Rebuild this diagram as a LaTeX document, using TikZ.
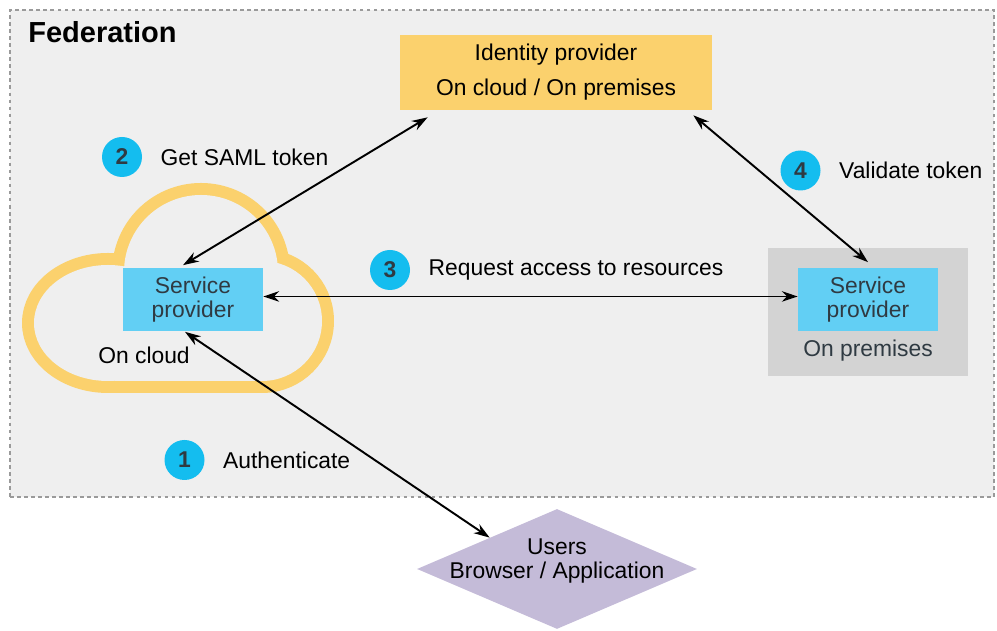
\documentclass[tikz,border=0pt]{standalone}
\usepackage{fontspec}
\setmainfont{Liberation Sans}
\usetikzlibrary{positioning,calc,shapes.geometric,arrows.meta}
\definecolor{fedgray}{HTML}{EFEFEF}
\definecolor{dashgray}{HTML}{9A9A9A}
\definecolor{idyellow}{HTML}{FBD16D}
\definecolor{spblue}{HTML}{62CFF4}
\definecolor{badgeblue}{HTML}{14BDEF}
\definecolor{premgray}{HTML}{D3D3D3}
\definecolor{userlilac}{HTML}{C4BBD8}
\definecolor{darktext}{HTML}{2F3A42}
\begin{document}
\begin{tikzpicture}[font=\fontsize{13}{13.7}\selectfont,
    badge/.style={circle, fill=badgeblue, minimum size=0.8cm, inner sep=0pt, text=darktext, font=\fontsize{13}{13.7}\selectfont\bfseries},
    lbl/.style={inner sep=0pt, text=black},
    spbox/.style={rectangle, fill=spblue, minimum width=2.8cm, minimum height=1.26cm, inner sep=0pt, align=center, text=darktext},
    link/.style={line width=1.1pt, {Stealth[length=9pt,width=6pt]}-{Stealth[length=9pt,width=6pt]}},
    cloudline/.style={draw=idyellow, line width=0.48cm, line join=round}]
    \useasboundingbox (0,0) rectangle (19.94,12.62);

    % federation area
    \node (fed) [draw=dashgray, dash pattern=on 2pt off 2pt, line width=0.8pt, fill=fedgray, minimum width=19.68cm, minimum height=9.74cm, inner sep=0pt] at (10.04,7.55) {};
    \node (fedtitle) [anchor=west, inner sep=0pt, font=\fontsize{16.5}{18}\selectfont\bfseries] at (0.56,11.98) {Federation};

    % cloud: strokes first, then fill over the inner half
    \path[cloudline] (4.02,7.18) circle (1.54) (2.16,6.16) ellipse (1.48 and 1.16) (5.24,6.20) circle (1.2) (5.1,5.0) rectangle (2.3,6.62);
    \fill[fedgray] (4.02,7.18) circle (1.54) (2.16,6.16) ellipse (1.48 and 1.16) (5.24,6.20) circle (1.2) (5.1,5.0) rectangle (2.3,6.62);

    \node (idp) [fill=idyellow, minimum width=6.24cm, minimum height=1.5cm, inner sep=0pt, align=center] at (11.12,11.17) {Identity provider\\[6.3pt]On cloud / On premises};

    \node (spc) [spbox] at (3.86,6.62) {Service\\provider};
    \node (oncloud) [lbl] at (2.88,5.52) {On cloud};

    \node (prem) [fill=premgray, minimum width=4.0cm, minimum height=2.56cm, inner sep=0pt] at (17.36,6.38) {};
    \node (spp) [spbox] at (17.36,6.62) {Service\\provider};
    \node (onprem) [lbl, text=darktext] at (17.36,5.60) {On premises};

    \node (usr) [diamond, fill=userlilac, minimum width=5.6cm, minimum height=2.4cm, inner sep=0pt,
        label={[align=center, text=black, yshift=0.16cm]center:Users\\Browser / Application}] at (11.14,1.24) {};

    \node (b1) [badge] at (3.69,3.42) {1};
    \node (l1) [lbl, right=0.36cm of b1] {Authenticate};
    \node (b2) [badge] at (2.44,9.48) {2};
    \node (l2) [lbl, right=0.36cm of b2] {Get SAML token};
    \node (b3) [badge] at (7.80,7.22) {3};
    \node (l3) [lbl, right=0.36cm of b3] {Request access to resources};
    \node (b4) [badge] at (16.01,9.21) {4};
    \node (l4) [lbl, right=0.36cm of b4] {Validate token};

    \draw[link] ($(spc.north)+(-0.2,0.06)$) -- ($(idp.south west)+(0.56,-0.14)$);
    \draw[link] ($(idp.south east)+(-0.38,-0.1)$) -- ($(spp.north)+(0,0.12)$);
    \draw[link] ([yshift=2pt]spc.east) -- ([yshift=2pt]spp.west);
    \draw[link] ($(spc.south)+(-0.16,0)$) -- ($(usr.west)!0.52!(usr.north)$);
\end{tikzpicture}
\end{document}
